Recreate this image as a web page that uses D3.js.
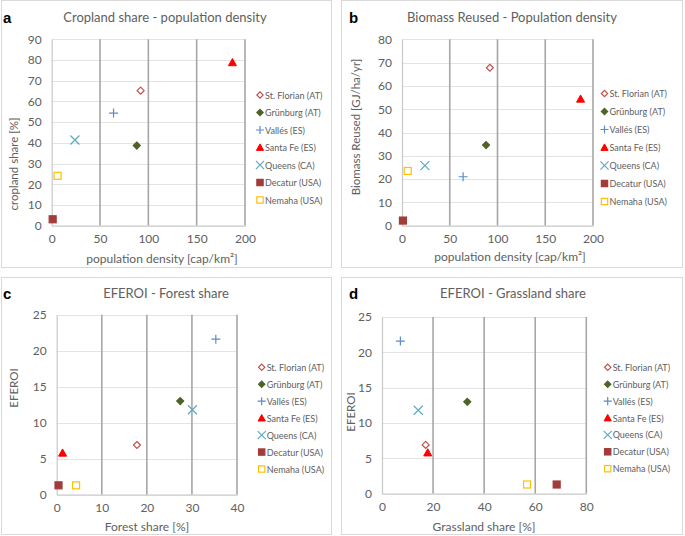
<!DOCTYPE html>
<html><head><meta charset="utf-8">
<script src="https://cdn.jsdelivr.net/npm/d3@7"></script>
<style>body{margin:0;background:#fff}svg{display:block}</style>
</head><body>
<script>
// ---- data ----
const seriesNames = ["St. Florian (AT)","Grünburg (AT)","Vallés (ES)","Santa Fe (ES)","Queens (CA)","Decatur (USA)","Nemaha (USA)"];
const popDensity     = [92, 88, 64, 187, 24, 1, 6];
const croplandShare  = [65.2, 38.7, 54.4, 78.8, 41.4, 3.1, 24.1];
const biomassReused  = [67.8, 34.6, 21.0, 54.4, 25.8, 2.2, 23.5];
const forestShare    = [17.8, 27.4, 35.3, 1.3, 30.1, 0.4, 4.3];
const grasslandShare = [17.1, 33.4, 7.2, 17.9, 14.2, 68.4, 56.8];
const eferoi         = [6.9, 13.0, 21.6, 5.8, 11.8, 1.3, 1.3];

// ---- styles ----
const markerStyle = [
  {shape:"diamond", fill:"#fff", stroke:"#c0504d", size:7},
  {shape:"diamond", fill:"#4f6228", stroke:"#4f6228", size:7},
  {shape:"plus", fill:"none", stroke:"#5b8ccc", size:9},
  {shape:"triangle", fill:"#ff0000", stroke:"#ff0000", size:8},
  {shape:"cross", fill:"none", stroke:"#5fa9c3", size:9},
  {shape:"square", fill:"#a33b3b", stroke:"#a33b3b", size:7},
  {shape:"square", fill:"#fff", stroke:"#ffc000", size:7}
];
const textColor = "#606060";
const font = "Lato, 'Open Sans', sans-serif";

const panels = [
  {label:"a", title:"Cropland share - population density", x:popDensity, y:croplandShare,
   xDom:[0,200], xStep:50, yDom:[0,90], yStep:10, xr:[51.7,245], yr:[225.7,39.3],
   xTitle:"population density [cap/km²]", yTitle:"cropland share [%]",
   frame:[1.5,0.5,330,267], titleXY:[165,17], labelXY:[3,17],
   xTitleXY:[162,258], yTitleXY:[13,164], legXY:[260,95], legStep:17.5},
  {label:"b", title:"Biomass Reused - Population density", x:popDensity, y:biomassReused,
   xDom:[0,200], xStep:50, yDom:[0,80], yStep:10, xr:[402,593], yr:[225.7,39.3],
   xTitle:"population density [cap/km²]", yTitle:"Biomass Reused [GJ/ha/yr]",
   frame:[341.5,0.5,341,267], titleXY:[512,17], labelXY:[349,17],
   xTitleXY:[510,256], yTitleXY:[355.5,127], legXY:[604.5,93.5], legStep:18},
  {label:"c", title:"EFEROI - Forest share", x:forestShare, y:eferoi,
   xDom:[0,40], xStep:10, yDom:[0,25], yStep:5, xr:[56.7,237], yr:[494.7,314.7],
   xTitle:"Forest share [%]", yTitle:"EFEROI",
   frame:[1.5,277.5,330,257], titleXY:[166,293], labelXY:[3,293],
   xTitleXY:[147,526], yTitleXY:[13.5,388], legXY:[261.7,367.3], legStep:16.95},
  {label:"d", title:"EFEROI - Grassland share", x:grasslandShare, y:eferoi,
   xDom:[0,80], xStep:20, yDom:[0,25], yStep:5, xr:[382,586.3], yr:[493.7,317],
   xTitle:"Grassland share [%]", yTitle:"EFEROI",
   frame:[341.5,277.5,341,257], titleXY:[513,293], labelXY:[349,293],
   xTitleXY:[484,526], yTitleXY:[350.5,412], legXY:[607.7,367.3], legStep:16.9}
];

const svg = d3.select("body").append("svg").attr("width",685).attr("height",536);

function drawMarker(g, st, cx, cy, scale){
  const s = st.size*(scale||1), h = s/2;
  if(st.shape==="diamond"){
    g.append("path").attr("d",`M${cx},${cy-h}L${cx+h},${cy}L${cx},${cy+h}L${cx-h},${cy}Z`)
      .attr("fill",st.fill).attr("stroke",st.stroke).attr("stroke-width",1.2);
  } else if(st.shape==="square"){
    g.append("rect").attr("x",cx-h).attr("y",cy-h).attr("width",s).attr("height",s)
      .attr("fill",st.fill).attr("stroke",st.stroke).attr("stroke-width",1.2);
  } else if(st.shape==="triangle"){
    g.append("path").attr("d",`M${cx},${cy-h}L${cx+h},${cy+h*0.8}L${cx-h},${cy+h*0.8}Z`)
      .attr("fill",st.fill).attr("stroke",st.stroke).attr("stroke-width",1);
  } else if(st.shape==="plus"){
    g.append("path").attr("d",`M${cx-h},${cy}H${cx+h}M${cx},${cy-h}V${cy+h}`)
      .attr("stroke",st.stroke).attr("stroke-width",1.2).attr("fill","none");
  } else if(st.shape==="cross"){
    g.append("path").attr("d",`M${cx-h},${cy-h}L${cx+h},${cy+h}M${cx-h},${cy+h}L${cx+h},${cy-h}`)
      .attr("stroke",st.stroke).attr("stroke-width",1.2).attr("fill","none");
  }
}

panels.forEach(p=>{
  const g = svg.append("g");
  const [fx,fy,fw,fh] = p.frame;
  g.append("rect").attr("x",fx).attr("y",fy).attr("width",fw).attr("height",fh)
    .attr("fill","#fff").attr("stroke","#d9d9d9").attr("stroke-width",1);

  const xs = d3.scaleLinear().domain(p.xDom).range(p.xr);
  const ys = d3.scaleLinear().domain(p.yDom).range(p.yr);
  const xt = d3.range(p.xDom[0], p.xDom[1]+1e-9, p.xStep);
  const yt = d3.range(p.yDom[0], p.yDom[1]+1e-9, p.yStep);

  // horizontal gridlines (light)
  g.append("g").selectAll("line").data(yt.filter(v=>v>0)).join("line")
    .attr("x1",p.xr[0]).attr("x2",p.xr[1])
    .attr("y1",d=>Math.round(ys(d))+0.5).attr("y2",d=>Math.round(ys(d))+0.5)
    .attr("stroke","#e3e3e3").attr("stroke-width",1);
  // vertical gridlines (darker)
  g.append("g").selectAll("line").data(xt.filter(v=>v>0)).join("line")
    .attr("x1",d=>xs(d)).attr("x2",d=>xs(d))
    .attr("y1",p.yr[0]).attr("y2",p.yr[1])
    .attr("stroke","#a6a6a6").attr("stroke-width",1.6);

  // axes
  const xAxis = d3.axisBottom(xs).tickValues(xt).tickSize(0).tickPadding(9).tickFormat(d3.format("d"));
  const yAxis = d3.axisLeft(ys).tickValues(yt).tickSize(0).tickPadding(10).tickFormat(d3.format("d"));
  const gx = g.append("g").attr("transform",`translate(0,${p.yr[0]})`).call(xAxis);
  const gy = g.append("g").attr("transform",`translate(${p.xr[0]},0)`).call(yAxis);
  [gx,gy].forEach(a=>{
    a.select(".domain").attr("stroke","#c8c8c8").attr("stroke-width",1.2);
    a.selectAll("text").attr("fill",textColor).attr("font-family",font).attr("font-size",12);
  });

  // points
  const pts = g.append("g");
  p.x.forEach((xv,i)=> drawMarker(pts, markerStyle[i], xs(xv), ys(p.y[i])));

  // titles
  g.append("text").attr("x",p.titleXY[0]).attr("y",p.titleXY[1]).attr("text-anchor","middle")
    .attr("dominant-baseline","central").attr("fill",textColor).attr("font-family",font)
    .attr("font-size",13).text(p.title);
  g.append("text").attr("x",p.labelXY[0]).attr("y",p.labelXY[1]).attr("dominant-baseline","central")
    .attr("fill","#000").attr("font-family","Arial, 'Liberation Sans', sans-serif").attr("font-weight","bold")
    .attr("font-size",15).text(p.label);
  g.append("text").attr("x",p.xTitleXY[0]).attr("y",p.xTitleXY[1]).attr("text-anchor","middle")
    .attr("dominant-baseline","central").attr("fill",textColor).attr("font-family",font)
    .attr("font-size",12).text(p.xTitle);
  g.append("text").attr("transform",`translate(${p.yTitleXY[0]},${p.yTitleXY[1]}) rotate(-90)`)
    .attr("text-anchor","middle").attr("dominant-baseline","central").attr("fill",textColor)
    .attr("font-family",font).attr("font-size",11.5).text(p.yTitle);

  // legend
  const lg = g.append("g");
  seriesNames.forEach((n,i)=>{
    const ly = p.legXY[1] + i*p.legStep;
    drawMarker(lg, markerStyle[i], p.legXY[0], ly, 0.9);
    lg.append("text").attr("x",p.legXY[0]+5).attr("y",ly).attr("dominant-baseline","central")
      .attr("fill",textColor).attr("font-family",font).attr("font-size",9)
      .text(n);
  });
});
</script>
</body></html>
